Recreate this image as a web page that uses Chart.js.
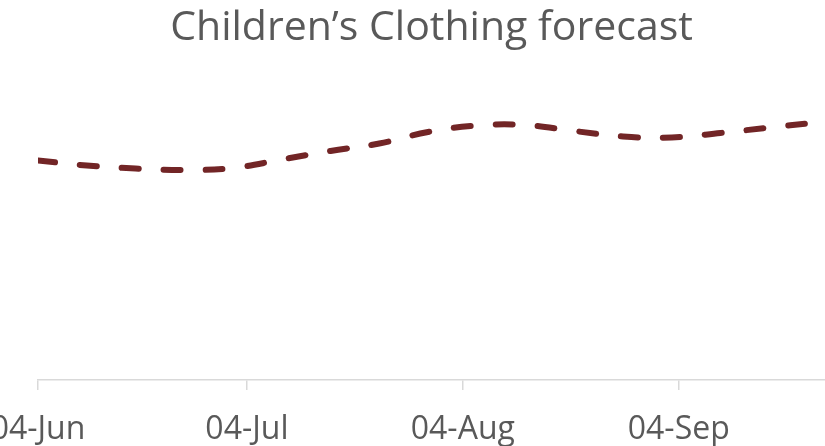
<!DOCTYPE html>
<html>
<head>
<meta charset="utf-8">
<title>Children's Clothing forecast</title>
<script src="https://cdn.jsdelivr.net/npm/chart.js@4.4.0/dist/chart.umd.min.js"></script>
<style>
  html, body { margin: 0; padding: 0; background: #fff; }
  #wrap { width: 825px; height: 446px; }
</style>
</head>
<body>
<div id="wrap"><canvas id="forecast-chart" width="825" height="446"></canvas></div>
<script>
// days since 04-Jun, weekly forecast points
const days = [0, 7, 14, 21, 28, 35, 42, 49, 56, 63, 70, 77, 84, 91, 98, 105, 111];
const forecast = [2195, 2145, 2115, 2100, 2120, 2205, 2290, 2365, 2480, 2545, 2550, 2490, 2435, 2425, 2470, 2525, 2570];

// tick positions (days since 04-Jun) and their labels
const tickDays = [0, 30, 61, 92];
const tickLabels = ['04-Jun', '04-Jul', '04-Aug', '04-Sep'];

const points = days.map((d, i) => ({ x: d, y: forecast[i] }));

function createForecastChart() {
    const ctx = document.getElementById('forecast-chart');
    if (!ctx) return;

    new Chart(ctx, {
        type: 'line',
        data: {
            datasets: [{
                label: 'Forecast',
                data: points,
                borderColor: '#722526',
                borderWidth: 6,
                borderDash: [17, 25],
                borderCapStyle: 'round',
                tension: 0.4,
                pointRadius: 0,
                fill: false
            }]
        },
        options: {
            responsive: false,
            animation: false,
            devicePixelRatio: 1,
            layout: { padding: { left: 38, right: 0, top: 0, bottom: 0 } },
            plugins: {
                legend: { display: false },
                tooltip: { enabled: false },
                title: {
                    display: true,
                    text: 'Children\u2019s Clothing forecast',
                    fullSize: false,
                    color: '#595959',
                    font: { family: 'Open Sans', size: 41, weight: 'normal' },
                    padding: { top: 3.4, bottom: 7.4 }
                }
            },
            scales: {
                x: {
                    type: 'linear',
                    min: 0,
                    max: 113,
                    afterBuildTicks: (scale) => {
                        scale.ticks = tickDays.map(v => ({ value: v }));
                    },
                    afterFit: (scale) => {
                        scale.paddingLeft = 0;
                        scale.paddingRight = 0;
                        scale.height = 66;
                    },
                    ticks: {
                        autoSkip: false,
                        maxRotation: 0,
                        color: '#595959',
                        padding: 21,
                        font: { family: 'Open Sans', size: 32 },
                        callback: (value) => {
                            const i = tickDays.indexOf(value);
                            return i >= 0 ? tickLabels[i] : '';
                        }
                    },
                    grid: {
                        drawOnChartArea: false,
                        drawTicks: true,
                        tickLength: 10,
                        color: '#d9d9d9',
                        lineWidth: 1.5
                    },
                    border: { display: true, color: '#d9d9d9', width: 1.5 }
                },
                y: {
                    display: false,
                    min: 0,
                    max: 3200
                }
            }
        }
    });
}

createForecastChart();
</script>
</body>
</html>
